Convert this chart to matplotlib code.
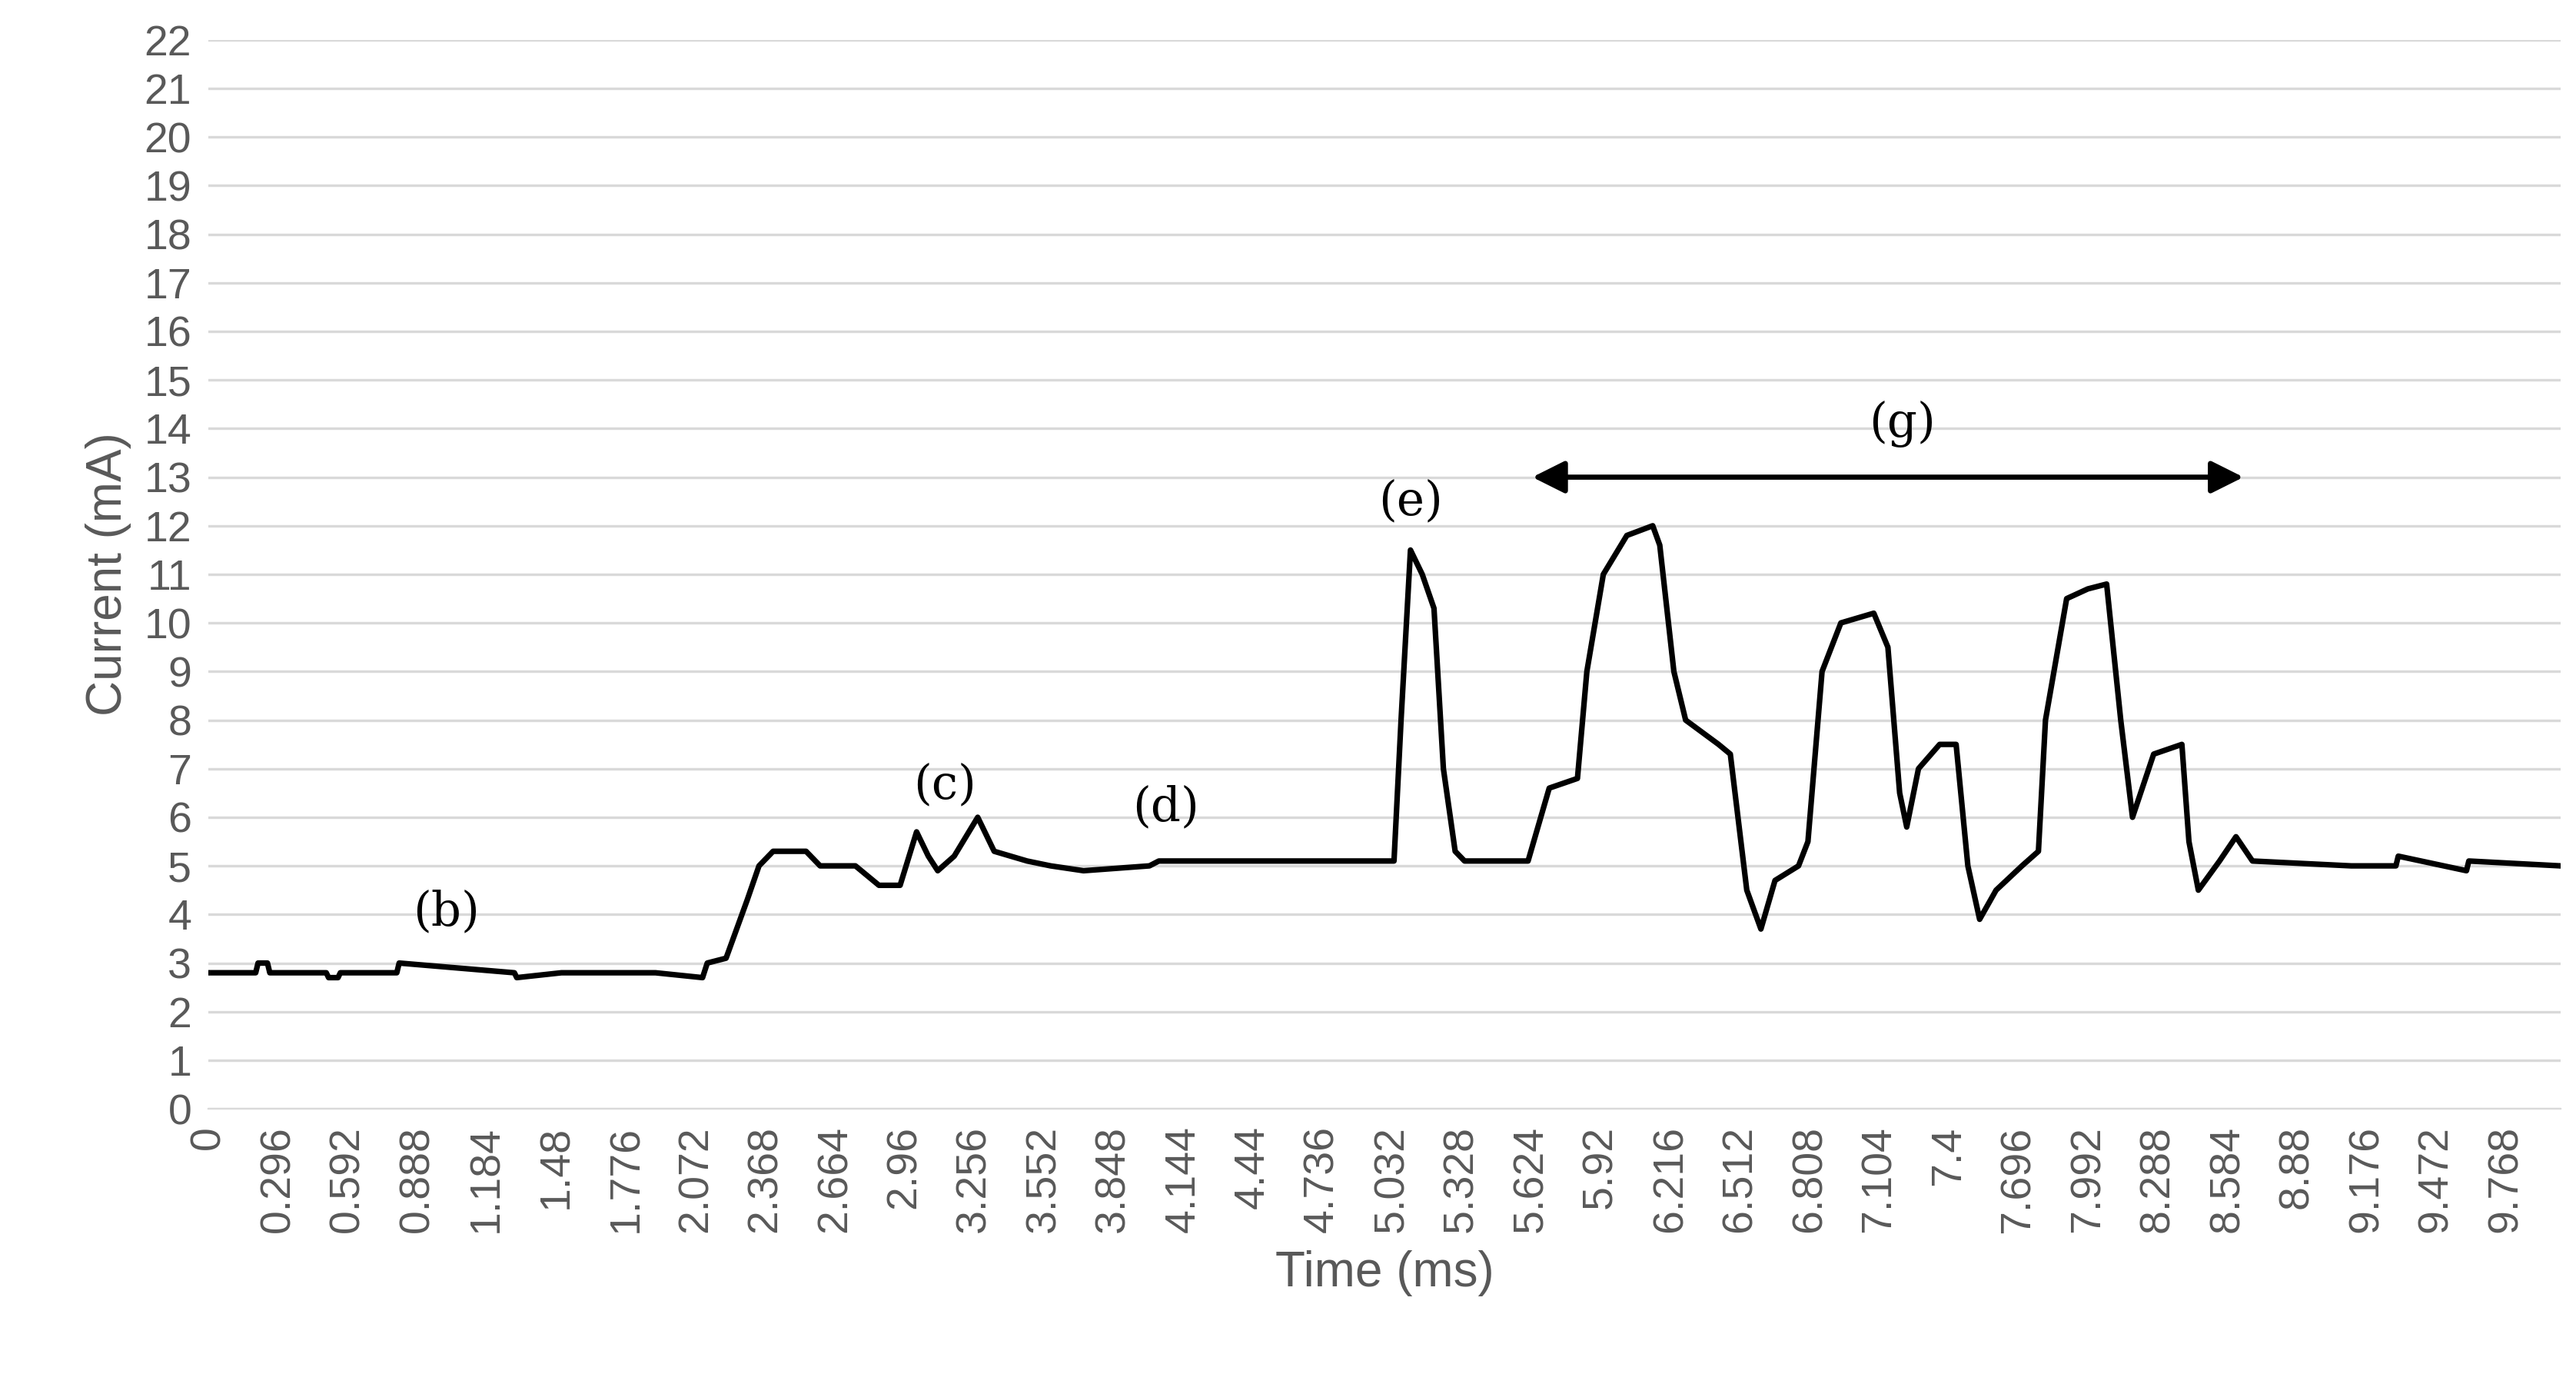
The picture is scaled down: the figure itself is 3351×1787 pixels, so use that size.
import numpy as np
import matplotlib.pyplot as plt

# breakpoints (time in ms, current in mA)
time_ms = [0.0, 0.2, 0.21, 0.25, 0.26, 0.5, 0.51, 0.55, 0.56, 0.8, 0.81, 1.3, 1.31, 1.5,
           1.9, 2.1, 2.12, 2.2, 2.29, 2.34, 2.4, 2.54, 2.6, 2.75, 2.85, 2.94, 3.01, 3.06,
           3.1, 3.17, 3.27, 3.34, 3.48, 3.58, 3.72, 4.0, 4.04, 5.04, 5.07, 5.11, 5.16,
           5.21, 5.25, 5.30, 5.34, 5.61, 5.70, 5.82, 5.86, 5.93, 6.03, 6.14, 6.17, 6.23,
           6.28, 6.42, 6.47, 6.54, 6.60, 6.66, 6.76, 6.80, 6.86, 6.94, 7.08, 7.14, 7.19,
           7.22, 7.27, 7.36, 7.43, 7.48, 7.53, 7.60, 7.71, 7.78, 7.81, 7.90, 7.99, 8.07,
           8.13, 8.18, 8.27, 8.39, 8.42, 8.46, 8.55, 8.62, 8.69, 9.11, 9.3, 9.31, 9.6,
           9.61, 10.0]
current_ma = [2.8, 2.8, 3.0, 3.0, 2.8, 2.8, 2.7, 2.7, 2.8, 2.8, 3.0, 2.8, 2.7, 2.8,
              2.8, 2.7, 3.0, 3.1, 4.3, 5.0, 5.3, 5.3, 5.0, 5.0, 4.6, 4.6, 5.7, 5.2,
              4.9, 5.2, 6.0, 5.3, 5.1, 5.0, 4.9, 5.0, 5.1, 5.1, 8.0, 11.5, 11.0,
              10.3, 7.0, 5.3, 5.1, 5.1, 6.6, 6.8, 9.0, 11.0, 11.8, 12.0, 11.6, 9.0,
              8.0, 7.5, 7.3, 4.5, 3.7, 4.7, 5.0, 5.5, 9.0, 10.0, 10.2, 9.5, 6.5,
              5.8, 7.0, 7.5, 7.5, 5.0, 3.9, 4.5, 5.0, 5.3, 8.0, 10.5, 10.7, 10.8,
              8.0, 6.0, 7.3, 7.5, 5.5, 4.5, 5.1, 5.6, 5.1, 5.0, 5.0, 5.2, 4.9,
              5.1, 5.0]

tick_labels = [f"{round(i * 0.296, 3):g}" for i in range(34)]
tick_pos = [i * 0.296 for i in range(34)]

notes = ["(b)", "(c)", "(d)", "(e)", "(g)"]
note_x = [1.01, 3.13, 4.07, 5.11, 7.2]
note_y = [4.05, 6.65, 6.2, 12.5, 14.1]
arrow_start, arrow_end, arrow_y = 5.61, 8.67, 13.0

gray = "#595959"
plt.rcParams["font.family"] = "Liberation Sans"

fig = plt.figure(figsize=(16.755, 8.935), dpi=200)
ax = fig.add_axes([0.081, 0.193, 0.913, 0.778])
ax.plot(time_ms, current_ma, color="black", lw=2.6)

ax.set_xlim(0, 10)
ax.set_ylim(0, 22)
ax.set_yticks(range(23))
ax.set_xticks(tick_pos)
ax.set_xticklabels(tick_labels, rotation=90, va="top")
ax.tick_params(axis="both", length=0, labelsize=20, colors=gray, pad=8)
ax.grid(axis="y", color="#d9d9d9", lw=1.2)
ax.set_axisbelow(True)
for s in ["top", "right", "left"]:
    ax.spines[s].set_visible(False)
ax.spines["bottom"].set_color("#d9d9d9")

ax.set_xlabel("Time (ms)", fontsize=23, color=gray, labelpad=8)
ax.set_ylabel("Current (mA)", fontsize=23, color=gray, labelpad=6)

for t, x, y in zip(notes, note_x, note_y):
    ax.text(x, y, t, ha="center", va="center", fontsize=22, family="DejaVu Serif")
ax.annotate("", xy=(arrow_start, arrow_y), xytext=(arrow_end, arrow_y),
            arrowprops=dict(arrowstyle="<|-|>", color="black", lw=2.4, mutation_scale=32))

fig.savefig("out.png", dpi=200)
